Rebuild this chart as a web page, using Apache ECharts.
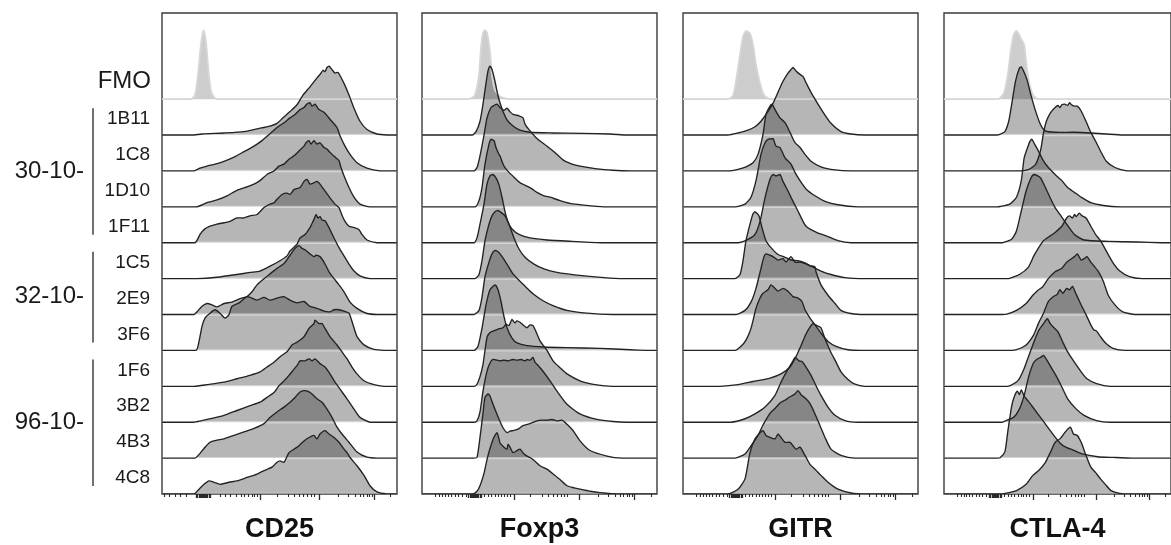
<!DOCTYPE html>
<html><head><meta charset="utf-8">
<script src="https://cdn.jsdelivr.net/npm/echarts@6/dist/echarts.min.js"></script>
<style>html,body{margin:0;padding:0;background:#fff}#c{width:1171px;height:545px}</style>
</head><body><div id="c"></div>
<script>
// ---------- categories ----------
const markers = ['CD25', 'Foxp3', 'GITR', 'CTLA-4'];
const samples = ['FMO', '1B11', '1C8', '1D10', '1F11', '1C5', '2E9', '3F6', '1F6', '3B2', '4B3', '4C8'];
const groupNames = ['30-10-', '32-10-', '96-10-'];
const groupFirst = [1, 5, 8];   // first sample index in each group
const groupLast  = [4, 7, 11];  // last sample index in each group

// ---------- histograms: [axis position (0-235 display units), % of mode] ----------
const CD25_FMO  = [[29,0],[33,6],[36,35],[39,80],[41.7,100],[44,82],[46.5,40],[49,12],[52,3],[55,0]];
const CD25_1B11 = [[30,0],[40,1.5],[62,3],[82,5],[95,9],[108,13],[115,17],[121,25],[128,34],[135,44],[141,58],[148,70],[155,83],[158,88],[161,94],[163,92],[165,98],[167,100],[170,95],[173,90],[176,91],[182,75],[187,58],[192,39],[198,20],[205,8],[215,1.5],[225,0]];
const CD25_1C8  = [[32,0],[38,4],[45,7],[53,10],[62,14],[72,20],[82,28],[92,36],[100,44],[108,54],[115,63],[122,70],[128,77],[133,82],[138,89],[142,92],[145,97],[148,99],[150,94],[153,97],[157,89],[162,85],[168,75],[175,63],[178,51],[183,36],[188,24],[195,12],[205,4],[218,0]];
const CD25_1D10 = [[35,0],[45,6],[55,10],[65,16],[75,24],[83,28],[92,33],[98,38],[105,47],[112,52],[117,59],[122,62],[127,69],[132,74],[137,81],[142,88],[144,93],[147,96],[149,91],[152,96],[155,91],[158,93],[162,86],[165,84],[168,79],[174,71],[177,67],[179,57],[182,45],[187,28],[192,14],[198,4],[208,0]];
const CD25_1F11 = [[33,0],[38,12],[42,19],[48,24],[55,27],[62,29],[68,31],[75,36],[82,36],[88,39],[95,41],[102,51],[108,56],[112,58],[115,63],[120,70],[125,72],[128,70],[132,77],[138,80],[142,89],[145,92],[148,85],[152,87],[155,89],[158,85],[162,77],[168,65],[173,56],[177,51],[180,40],[183,31],[187,24],[192,22],[197,19],[200,12],[205,4],[215,0]];
const CD25_1C5  = [[35,0],[55,2],[75,6],[88,9],[98,11],[108,18],[118,26],[125,33],[128,40],[135,50],[138,59],[143,64],[148,74],[150,80],[152,86],[154,93],[156,88],[158,90],[160,85],[163,84],[167,74],[172,59],[177,45],[182,33],[187,21],[192,11],[198,4],[208,0]];
const CD25_2E9  = [[32,0],[35,4],[40,12],[45,16],[50,14],[55,11],[62,16],[70,18],[78,23],[85,26],[90,33],[95,43],[102,52],[108,59],[115,67],[122,74],[128,86],[133,96],[137,100],[140,96],[143,94],[148,88],[152,84],[154,86],[158,84],[162,76],[167,62],[172,52],[177,43],[182,33],[188,18],[195,9],[205,1.5],[215,0]];
const CD25_3F6  = [[34,0],[37,13],[40,35],[43,47],[48,54],[53,59],[58,54],[63,47],[67,52],[70,64],[77,69],[85,78],[90,76],[95,73],[102,77],[108,73],[115,76],[122,78],[128,73],[135,69],[142,71],[148,64],[155,61],[162,57],[168,56],[172,59],[177,59],[182,57],[187,54],[190,42],[195,20],[202,8],[212,1.5],[222,0]];
const CD25_1F6  = [[32,0],[45,2.4],[62,6],[75,11],[88,16],[98,21],[105,28],[112,35],[118,43],[125,50],[130,60],[135,64],[142,72],[147,84],[152,91],[153,96],[157,91],[160,91],[163,84],[168,72],[175,60],[180,50],[185,40],[190,28],[195,18],[202,8],[212,2.4],[222,0]];
const CD25_3B2  = [[32,0],[45,4],[62,10],[75,17],[88,24],[98,29],[105,36],[112,43],[117,53],[122,60],[127,68],[132,77],[135,82],[138,89],[143,89],[147,92],[150,89],[153,92],[158,85],[163,80],[168,70],[173,58],[178,48],[185,34],[192,19],[198,7],[208,0]];
const CD25_4B3  = [[33,0],[42,14],[48,23],[55,26],[62,28],[72,33],[82,38],[92,43],[102,50],[108,59],[115,67],[122,74],[128,81],[133,88],[138,96],[143,98],[147,96],[150,93],[155,86],[160,81],[165,71],[170,59],[175,45],[180,35],[187,23],[195,9],[205,1.5],[215,0]];
const CD25_4C8  = [[32,0],[37,7],[42,14],[47,19],[52,17],[58,14],[67,17],[75,19],[85,24],[95,29],[102,34],[110,39],[115,46],[118,48],[122,46],[127,60],[132,65],[137,70],[142,77],[147,82],[152,85],[155,80],[158,87],[163,92],[167,87],[172,82],[177,75],[182,65],[185,60],[188,53],[195,41],[202,27],[208,12],[215,3],[225,0]];

const FOXP3_FMO  = [[46,0],[50,2],[53,6],[57,35],[59,74],[61,96],[63,100],[65,96],[68,69],[70,35],[73,13],[78,4],[87,0]];
const FOXP3_1B11 = [[50,0],[54,5],[58,20],[61,45],[64,75],[66,93],[68,100],[70,95],[73,78],[76,57],[80,38],[85,22],[91,13],[98,7],[108,4],[130,3],[160,2.5],[188,1.5],[205,0]];
const FOXP3_1C8  = [[52,0],[55,5],[58,22],[62,52],[65,77],[69,92],[72,95],[75,97],[78,92],[82,88],[85,91],[88,86],[91,82],[97,80],[101,77],[103,68],[107,60],[115,47],[125,36],[132,28],[141,16],[150,10],[158,7],[175,3],[191,1],[208,0]];
const FOXP3_1D10 = [[53,0],[57,9],[60,28],[63,62],[67,91],[69,98],[72,96],[74,86],[77,76],[78,74],[81,62],[83,57],[87,50],[92,43],[98,35],[105,30],[110,26],[115,21],[122,16],[128,14],[138,9],[148,5],[162,2.4],[182,0]];
const FOXP3_1F11 = [[52,0],[55,7],[58,27],[62,56],[65,85],[68,97],[71,99],[74,94],[77,84],[80,66],[83,45],[86,30],[90,20],[97,12],[108,7],[125,4],[150,2],[180,0]];
const FOXP3_1C5  = [[53,0],[57,6],[60,26],[63,55],[67,79],[70,91],[73,97],[76,99],[80,95],[83,91],[87,79],[92,59],[97,43],[103,31],[112,21],[122,14],[135,9],[155,5],[182,1.5],[202,0]];
const FOXP3_2E9  = [[52,0],[57,6],[60,25],[63,55],[67,76],[70,88],[73,93],[76,91],[78,88],[82,80],[85,73],[91,59],[101,44],[111,30],[121,20],[131,13],[145,6],[165,2],[191,0]];
const FOXP3_3F6  = [[52,0],[56,6],[60,32],[64,66],[68,88],[73,95],[76,88],[79,71],[82,49],[85,33],[90,18],[95,11],[105,7],[122,5],[145,4],[178,3],[208,1],[225,0]];
const FOXP3_1F6  = [[52,0],[55,3],[58,14],[61,32],[65,71],[68,78],[71,80],[76,83],[81,85],[84,90],[87,88],[90,97],[93,92],[95,95],[98,93],[102,88],[105,85],[108,89],[111,88],[115,76],[118,66],[125,52],[131,37],[138,27],[145,18],[158,8],[175,2],[191,0]];
const FOXP3_3B2  = [[52,0],[55,2],[58,15],[61,45],[65,74],[68,86],[71,91],[75,90],[78,89],[82,90],[86,89],[91,91],[95,90],[99,91],[103,89],[105,91],[108,90],[111,94],[113,87],[115,84],[121,74],[128,60],[135,45],[145,26],[158,12],[175,4],[191,1],[205,0]];
const FOXP3_4B3  = [[52,0],[55,1],[58,30],[61,65],[63,88],[66,93],[68,90],[71,78],[76,60],[81,44],[85,37],[88,39],[91,40],[96,42],[101,47],[108,50],[115,54],[120,55],[125,55],[130,56],[135,54],[140,55],[145,49],[151,40],[158,25],[168,11],[185,3],[200,0]];
const FOXP3_4C8  = [[51,0],[55,4],[58,12],[62,30],[65,50],[68,66],[71,79],[73,85],[75,89],[77,80],[78,74],[82,68],[85,65],[86,72],[88,68],[91,60],[95,63],[98,65],[102,58],[105,55],[108,53],[111,50],[118,41],[125,36],[132,28],[138,21],[145,12],[152,9],[158,7],[168,4],[178,2],[198,0]];

const GITR_FMO  = [[45,0],[50,5],[53,26],[57,64],[60,91],[63,99],[67,95],[70,79],[73,50],[77,23],[81,6],[87,0]];
const GITR_1B11 = [[45,0],[55,3],[65,7],[72,12],[78,20],[84,32],[90,46],[95,62],[100,78],[105,90],[108,95],[110,98],[113,93],[117,88],[120,85],[123,76],[128,62],[135,45],[142,29],[148,17],[158,5],[168,1.5],[182,0]];
const GITR_1C8  = [[45,0],[55,2.4],[63,6],[70,12],[75,24],[80,53],[83,82],[87,94],[89,97],[92,89],[97,77],[102,70],[107,56],[112,41],[117,34],[122,24],[128,14],[138,6],[152,1.5],[168,0]];
const GITR_1D10 = [[52,0],[62,4],[68,14],[73,38],[78,76],[82,93],[85,98],[90,99],[93,88],[97,86],[102,71],[108,62],[112,50],[117,38],[123,26],[132,16],[142,8],[155,3],[175,0]];
const GITR_1F11 = [[55,0],[65,5],[72,12],[77,31],[82,65],[87,92],[90,99],[93,97],[97,99],[100,89],[105,75],[110,60],[115,46],[120,31],[123,24],[128,19],[135,14],[143,10],[155,3],[168,0]];
const GITR_1C5  = [[52,0],[57,6],[60,26],[63,55],[67,79],[70,94],[72,97],[76,91],[79,74],[83,55],[88,45],[95,35],[102,31],[108,27],[115,26],[122,23],[128,18],[138,11],[148,6],[162,1.5],[182,0]];
const GITR_2E9  = [[53,0],[62,6],[68,18],[73,38],[78,67],[81,84],[83,88],[87,86],[90,84],[95,79],[100,81],[103,76],[108,84],[112,76],[117,76],[122,74],[127,71],[132,69],[133,62],[138,43],[145,28],[152,16],[158,6],[168,1.5],[182,0]];
const GITR_3F6  = [[52,0],[58,6],[63,15],[68,32],[73,61],[77,76],[80,83],[85,88],[88,95],[92,90],[95,86],[100,90],[105,86],[110,78],[115,76],[119,71],[122,59],[127,47],[132,37],[138,25],[145,13],[153,6],[165,1],[178,0]];
const GITR_1F6  = [[37,0],[55,2.4],[70,7],[87,12],[98,18],[107,28],[113,43],[118,59],[123,76],[128,88],[130,91],[134,88],[138,85],[142,69],[147,52],[152,38],[158,21],[165,10],[172,3],[182,0]];
const GITR_3B2  = [[48,0],[62,5],[72,12],[82,22],[92,39],[98,58],[105,77],[110,89],[112,94],[116,89],[119,88],[123,80],[128,68],[133,53],[138,39],[145,22],[152,10],[162,2.4],[175,0]];
const GITR_4B3  = [[52,0],[62,6],[70,22],[75,33],[80,48],[87,65],[92,72],[97,80],[102,84],[107,89],[112,93],[115,98],[118,92],[123,86],[127,79],[132,64],[137,47],[142,30],[148,13],[158,4],[172,0]];
const GITR_4C8  = [[45,0],[55,7],[62,22],[67,60],[72,80],[77,89],[80,92],[83,85],[87,82],[92,80],[95,87],[98,82],[102,75],[107,75],[110,70],[113,65],[117,68],[122,56],[127,43],[132,36],[138,27],[145,17],[155,7],[168,1.5],[182,0]];

const CTLA4_FMO  = [[55,0],[57,0.5],[62,9],[66,35],[69,69],[72,93],[75,99],[78,93],[80,87],[83,79],[85,54],[88,25],[92,7],[97,0]];
const CTLA4_1B11 = [[55,0],[57,0.5],[63,5],[67,20],[70,44],[74,78],[78,97],[80,99],[82,94],[86,80],[90,58],[95,34],[100,15],[105,6],[115,4],[135,4],[152,3],[168,1.5],[185,0]];
const CTLA4_1C8  = [[75,0],[88,2.4],[95,10],[100,30],[103,55],[106,72],[110,84],[115,92],[118,95],[120,92],[122,96],[125,97],[128,95],[130,99],[132,96],[135,94],[138,94],[142,87],[147,72],[152,56],[157,43],[162,29],[168,14],[177,5],[188,0.5],[202,0]];
const CTLA4_1D10 = [[55,0],[58,0.5],[68,4],[75,14],[80,38],[83,71],[87,88],[89,95],[91,98],[93,93],[97,83],[102,69],[108,57],[115,47],[122,38],[128,28],[135,21],[142,14],[152,6],[165,2],[182,0]];
const CTLA4_1F11 = [[60,0],[62,0.5],[70,5],[75,17],[80,46],[85,75],[90,94],[93,99],[97,97],[100,94],[105,80],[110,65],[115,51],[120,41],[127,27],[135,12],[145,4],[170,2],[200,1],[225,0]];
const CTLA4_1C5  = [[65,0],[68,0.5],[78,6],[87,16],[93,33],[98,45],[103,55],[110,62],[115,67],[122,76],[127,88],[130,91],[133,88],[135,93],[137,90],[140,95],[143,91],[147,88],[152,76],[157,64],[162,55],[168,40],[175,23],[182,11],[192,3],[205,0]];
const CTLA4_2E9  = [[60,0],[65,0.5],[75,6],[85,16],[92,28],[97,35],[102,40],[108,52],[115,62],[122,67],[127,76],[132,81],[135,84],[138,88],[142,79],[145,81],[148,84],[152,76],[155,71],[160,62],[165,48],[170,28],[177,14],[185,4],[198,0]];
const CTLA4_3F6  = [[70,0],[75,1],[85,8],[93,23],[98,40],[103,54],[108,71],[113,78],[117,81],[120,88],[123,83],[127,90],[130,88],[133,93],[137,81],[142,66],[147,52],[152,37],[155,30],[158,28],[162,20],[167,11],[175,3],[188,0]];
const CTLA4_1F6  = [[65,0],[68,0.5],[77,9],[83,26],[88,45],[93,64],[98,81],[103,91],[107,98],[110,91],[113,86],[118,79],[123,64],[128,50],[135,35],[142,21],[148,11],[158,4],[172,0]];
const CTLA4_3B2  = [[60,0],[62,1],[72,7],[78,19],[83,39],[88,68],[93,87],[97,92],[100,94],[103,97],[107,89],[112,77],[117,65],[122,51],[128,34],[137,19],[145,10],[158,2.4],[172,0]];
const CTLA4_4B3  = [[55,0],[58,0.5],[63,9],[66,38],[70,75],[73,90],[76,97],[78,92],[80,99],[83,90],[87,83],[93,72],[102,55],[112,36],[120,22],[126,16],[135,11],[143,6],[159,2],[175,1],[195,0]];
const CTLA4_4C8  = [[60,0],[62,0.5],[75,5],[85,14],[92,27],[98,34],[105,46],[110,60],[115,75],[120,80],[125,89],[128,94],[131,97],[134,87],[138,85],[142,75],[147,56],[152,39],[157,31],[162,22],[167,14],[173,5],[182,1],[192,0]];

// ---------- axis tick positions (display units) ----------
const cd25MajorTicks = [98.3, 157.7, 212.3];
const cd25MinorTicks = [2.3, 7.3, 13.3, 18.3, 24.3, 58.3, 63.3, 68.3, 74, 79, 82.3, 86.7, 90, 92.7, 95,
  115.7, 126, 132.7, 137.7, 141.7, 145.5, 149, 152.5, 176.7, 186.7, 193.3, 198.3, 201.7, 205, 207.7, 210, 228.3];
const cd25ZeroTicks = [34, 35.5, 37, 38.5, 39.5, 40.5, 41.3, 42, 43, 44, 45.5, 47, 48.5];
const otherMajorTicks = [92.5, 157.7, 212.5];
const otherMinorTicks = [13.5, 17.5, 20.5, 23.5, 26.5, 29.5, 33, 36.5, 40, 44, 62, 66, 69.5, 73, 76.5, 79.5, 82.5, 85.5, 88.5,
  108.3, 120, 126.7, 131.7, 135.5, 139, 142.5, 145.5, 176.7, 186.7, 193.3, 198.3, 201.7, 205, 207.7, 210, 229];
const otherZeroTicks = [46.5, 48, 49.5, 50.5, 51.5, 52.3, 53, 53.7, 54.5, 55.5, 56.5, 58, 59.5];

// ---------- assemble ----------
const panelCurves = [
  [CD25_FMO, CD25_1B11, CD25_1C8, CD25_1D10, CD25_1F11, CD25_1C5, CD25_2E9, CD25_3F6, CD25_1F6, CD25_3B2, CD25_4B3, CD25_4C8],
  [FOXP3_FMO, FOXP3_1B11, FOXP3_1C8, FOXP3_1D10, FOXP3_1F11, FOXP3_1C5, FOXP3_2E9, FOXP3_3F6, FOXP3_1F6, FOXP3_3B2, FOXP3_4B3, FOXP3_4C8],
  [GITR_FMO, GITR_1B11, GITR_1C8, GITR_1D10, GITR_1F11, GITR_1C5, GITR_2E9, GITR_3F6, GITR_1F6, GITR_3B2, GITR_4B3, GITR_4C8],
  [CTLA4_FMO, CTLA4_1B11, CTLA4_1C8, CTLA4_1D10, CTLA4_1F11, CTLA4_1C5, CTLA4_2E9, CTLA4_3F6, CTLA4_1F6, CTLA4_3B2, CTLA4_4B3, CTLA4_4C8]
];
const panelTicks = [
  [cd25MinorTicks, cd25MajorTicks, cd25ZeroTicks],
  [otherMinorTicks, otherMajorTicks, otherZeroTicks],
  [otherMinorTicks, otherMajorTicks, otherZeroTicks],
  [otherMinorTicks, otherMajorTicks, otherZeroTicks]
];

const X_MAX = 235, Y_MAX = 13.4, PEAK_ROWS = 1.92;
const gridLefts = [162, 422, 683, 944];
const GRID_TOP = 13, GRID_H = 481, GRID_W = 235;
const FONT = "'Liberation Sans', Arial, Helvetica, sans-serif";
const SMOOTH = 0.2;

const nRows = samples.length;
const baseOf = i => nRows - 1 - i;

function curvePts(p, i, api) {
  const c = panelCurves[p][i];
  const b = baseOf(i);
  const full = [[0, 0]].concat(c, [[X_MAX, 0]]);
  return full.map(d => api.coord([d[0], b + d[1] / 100 * PEAK_ROWS]));
}
function bbox(pts) {
  let x0 = Infinity, y0 = Infinity, x1 = -Infinity, y1 = -Infinity;
  pts.forEach(q => { x0 = Math.min(x0, q[0]); y0 = Math.min(y0, q[1]); x1 = Math.max(x1, q[0]); y1 = Math.max(y1, q[1]); });
  return [[x0, y0], [x1, y1]];
}

const chart = echarts.init(document.getElementById('c'), null, {renderer: 'canvas'});
const grid = [], xAxis = [], yAxis = [], series = [];
const tickStyles = [
  {len: 3, w: 1.1},
  {len: 6, w: 1.3},
  {len: 4, w: 1.3}
];
markers.forEach((m, p) => {
  grid.push({left: gridLefts[p], top: GRID_TOP, width: GRID_W, height: GRID_H, show: true,
    borderColor: '#3a3a3a', borderWidth: 1.4, backgroundColor: 'transparent', containLabel: false});
  tickStyles.forEach((ts, k) => {
    xAxis.push({type: 'value', gridIndex: p, min: 0, max: X_MAX, position: 'bottom',
      axisLine: {show: false}, splitLine: {show: false}, axisLabel: {show: false},
      axisTick: {show: true, customValues: panelTicks[p][k], length: ts.len, inside: false,
        lineStyle: {color: '#2a2a2a', width: ts.w}}});
  });
  yAxis.push({type: 'value', gridIndex: p, min: 0, max: Y_MAX, show: false});
  const idx = samples.map((s, i) => [i, 0]);
  // fills
  series.push({type: 'custom', name: m + ' fill', coordinateSystem: 'cartesian2d', xAxisIndex: p * 3, yAxisIndex: p,
    clip: true, silent: true, z: 2, data: idx,
    renderItem: (params, api) => {
      const i = api.value(0);
      const pts = curvePts(p, i, api);
      return {type: 'polygon', shape: {points: pts, smooth: SMOOTH, smoothConstraint: bbox(pts)},
        style: {fill: i === 0 ? 'rgba(60,60,60,0.26)' : 'rgba(40,40,44,0.34)', stroke: null}};
    }});
  // light baseline bands
  series.push({type: 'custom', name: m + ' band', coordinateSystem: 'cartesian2d', xAxisIndex: p * 3, yAxisIndex: p,
    clip: true, silent: true, z: 3, data: idx,
    renderItem: (params, api) => {
      const i = api.value(0);
      if (i === 0) {
        const pts = curvePts(p, i, api);
        return {type: 'polyline', shape: {points: pts, smooth: SMOOTH, smoothConstraint: bbox(pts)},
          style: {stroke: '#d6d6d6', lineWidth: 1.8, fill: null}};
      }
      const a = api.coord([0, baseOf(i)]), b = api.coord([X_MAX, baseOf(i)]);
      return {type: 'line', shape: {x1: a[0], y1: a[1], x2: b[0], y2: b[1]},
        style: {stroke: 'rgba(255,255,255,0.42)', lineWidth: 2.4}};
    }});
  // outlines
  series.push({type: 'custom', name: m + ' outline', coordinateSystem: 'cartesian2d', xAxisIndex: p * 3, yAxisIndex: p,
    clip: true, silent: true, z: 4, data: idx.slice(1),
    renderItem: (params, api) => {
      const i = api.value(0);
      const pts = curvePts(p, i, api);
      return {type: 'polyline', shape: {points: pts, smooth: SMOOTH, smoothConstraint: bbox(pts)},
        style: {stroke: '#222', lineWidth: 1.35, fill: null, lineJoin: 'round'}};
    }});
});

chart.setOption({animation: false, backgroundColor: '#fff', grid, xAxis, yAxis, series});

// ---------- labels (positions taken from the axes) ----------
const px = (g, x, y) => chart.convertToPixel({gridIndex: g}, [x, y]);
const graphic = [];
samples.forEach((s, i) => {
  const y = px(0, 0, baseOf(i) + 0.5)[1];
  graphic.push({type: 'text', x: i === 0 ? 151 : 150, y: y + (i === 0 ? 0 : 2),
    style: {text: s, font: (i === 0 ? '24px ' : '19px ') + FONT, fill: '#1a1a1a',
      textAlign: 'right', textVerticalAlign: 'middle'}});
});
groupNames.forEach((g, k) => {
  const yTop = px(0, 0, baseOf(groupFirst[k]) + 1)[1];
  const yBot = px(0, 0, baseOf(groupLast[k]))[1];
  graphic.push({type: 'text', x: 84, y: (yTop + yBot) / 2,
    style: {text: g, font: '24px ' + FONT, fill: '#1a1a1a', textAlign: 'right', textVerticalAlign: 'middle'}});
  graphic.push({type: 'line', shape: {x1: 93, y1: yTop + 9, x2: 93, y2: yBot - 8},
    style: {stroke: '#333', lineWidth: 1.4}});
});
markers.forEach((m, p) => {
  const x = px(p, X_MAX / 2, 0)[0];
  graphic.push({type: 'text', x: x, y: 530,
    style: {text: m, font: 'bold 27px ' + FONT, fill: '#111', textAlign: 'center', textVerticalAlign: 'middle'}});
});
chart.setOption({graphic});
</script>
</body></html>
